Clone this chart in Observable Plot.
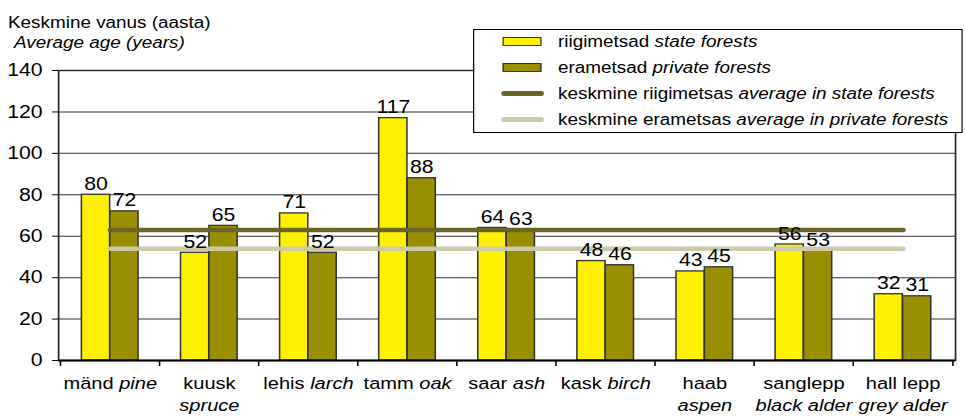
<!DOCTYPE html>
<html><head><meta charset="utf-8">
<script src="https://cdn.jsdelivr.net/npm/d3@7"></script>
<script src="https://cdn.jsdelivr.net/npm/@observablehq/plot@0.6"></script>
<style>
html,body{margin:0;padding:0;background:#fff;overflow:hidden;}
#stretch{position:absolute;left:0;top:0;width:818px;height:416px;transform-origin:0 0;transform:scaleX(1.17971);font-family:"Liberation Sans",Arial,sans-serif;color:#000;}
#chart{position:absolute;left:0;top:0;}
.title{position:absolute;font-size:16px;line-height:16px;white-space:nowrap;}
#legend{position:absolute;left:401px;top:29px;width:415px;height:104px;box-sizing:border-box;border:1.5px solid #000;background:#fff;}
.row{position:absolute;left:71px;height:16px;line-height:16px;font-size:16px;white-space:nowrap;}
.sw{position:absolute;left:24px;box-sizing:border-box;}
</style></head><body>
<div id="stretch"><div id="chart"></div><div id="titles"></div><div id="legend"></div></div>
<script>
// ---- data ----
const speciesEt = ["mänd", "kuusk", "lehis", "tamm", "saar", "kask", "haab", "sanglepp", "hall lepp"];
const speciesEn = ["pine", "spruce", "larch", "oak", "ash", "birch", "aspen", "black alder", "grey alder"];
const twoLineLabel = [false, true, false, false, false, false, true, true, true];
const stateAge = [80, 52, 71, 117, 64, 48, 43, 56, 32];
const privateAge = [72, 65, 52, 88, 63, 46, 45, 53, 31];
const avgStateAge = 63;
const avgPrivateAge = 54;
const yTicks = [0, 20, 40, 60, 80, 100, 120, 140];
const legendEt = ["riigimetsad", "erametsad", "keskmine riigimetsas", "keskmine erametsas"];
const legendEn = ["state forests", "private forests", "average in state forests", "average in private forests"];
const titleEt = "Keskmine vanus (aasta)";
const titleEn = "Average age (years)";

// ---- styles ----
const cState = "#fff000", cPrivate = "#998f00", cAvgState = "#6b6424", cAvgPrivate = "#cbc9a7";
const W = 818, H = 416, mL = 49.2, mR = 8.5, mT = 70, mB = 56;
const pIn = 0.43, pOut = 0.215;
const step = (W - mL - mR) / (speciesEt.length - pIn + 2 * pOut);
const half = step * (1 - pIn) / 2;

const stateRows = speciesEt.map((c, i) => ({cat: c, v: stateAge[i]}));
const privRows = speciesEt.map((c, i) => ({cat: c, v: privateAge[i]}));
const labelText = speciesEt.map((c, i) => twoLineLabel[i] ? c + "\n" + speciesEn[i] : c + " " + speciesEn[i]);

const plot = Plot.plot({
  width: W, height: H,
  marginLeft: mL, marginRight: mR, marginTop: mT, marginBottom: mB,
  style: {fontFamily: '"Liberation Sans", Arial, sans-serif', fontSize: "18px", background: "transparent", color: "#000", overflow: "visible"},
  x: {domain: speciesEt, paddingInner: pIn, paddingOuter: pOut, axis: null},
  y: {domain: [0, 140], ticks: 7, tickSize: 5, tickPadding: 8.6, label: null},
  marks: [
    Plot.ruleY(yTicks, {stroke: "#333", strokeWidth: 1}),
    Plot.barY(stateRows, {x: "cat", y: "v", fill: cState, stroke: "#333", strokeWidth: 1.3, insetRight: half}),
    Plot.barY(privRows, {x: "cat", y: "v", fill: cPrivate, stroke: "#333", strokeWidth: 1.3, insetLeft: half}),
    Plot.lineY(speciesEt, {x: d => d, y: () => avgStateAge, stroke: cAvgState, strokeWidth: 4.5, strokeLinecap: "round"}),
    Plot.lineY(speciesEt, {x: d => d, y: () => avgPrivateAge, stroke: cAvgPrivate, strokeWidth: 4.5, strokeLinecap: "round"}),
    Plot.frame({stroke: "#222", strokeWidth: 1.4}),
    Plot.ruleY([0], {stroke: "#000", strokeWidth: 2}),
    Plot.ruleX(speciesEt, {x: d => d, dx: -step / 2, insetTop: H - mT - mB, insetBottom: -6, stroke: "#000", strokeWidth: 1.3}),
    Plot.ruleX(speciesEt.slice(-1), {x: d => d, dx: step / 2, insetTop: H - mT - mB, insetBottom: -6, stroke: "#000", strokeWidth: 1.3}),
    Plot.text(stateRows, {x: "cat", y: "v", text: d => String(d.v), dx: -half / 2, dy: -5, lineAnchor: "bottom", fontSize: 18, fill: "#000"}),
    Plot.text(privRows, {x: "cat", y: "v", text: d => String(d.v), dx: half / 2, dy: -5, lineAnchor: "bottom", fontSize: 18, fill: "#000"}),
    Plot.text(speciesEt, {x: d => d, text: (d, i) => labelText[i], frameAnchor: "bottom", lineAnchor: "top", dy: 13, fontSize: 17, lineHeight: 1.28, fill: "#000"})
  ]
});
document.getElementById("chart").appendChild(plot);

// italic English part of category labels
d3.select(plot).selectAll("text").each(function() {
  const t = d3.select(this);
  const content = this.textContent;
  for (let i = 0; i < speciesEt.length; i++) {
    if (twoLineLabel[i] && content === speciesEt[i] + speciesEn[i]) {
      t.selectAll("tspan").filter((_, j) => j === 1).attr("font-style", "italic");
      break;
    }
    if (!twoLineLabel[i] && content === speciesEt[i] + " " + speciesEn[i]) {
      const tsp = t.selectAll("tspan");
      if (!tsp.empty()) {
        const tn = tsp.node();
        tn.textContent = speciesEt[i] + " ";
        d3.select(tn).append("tspan").attr("font-style", "italic").text(speciesEn[i]);
      } else {
        t.text(speciesEt[i] + " ");
        t.append("tspan").attr("font-style", "italic").text(speciesEn[i]);
      }
      break;
    }
  }
});

// titles
const titles = document.getElementById("titles");
const t1 = document.createElement("div"); t1.className = "title"; t1.style.left = "6.8px"; t1.style.top = "14.8px"; t1.textContent = titleEt;
const t2 = document.createElement("div"); t2.className = "title"; t2.style.left = "11.9px"; t2.style.top = "34.7px"; t2.style.fontStyle = "italic"; t2.textContent = titleEn;
titles.appendChild(t1); titles.appendChild(t2);

// legend
const legend = document.getElementById("legend");
const rowCenters = [11.5, 37.5, 63.5, 89.5];
const kinds = [["rect", cState], ["rect", cPrivate], ["line", cAvgState], ["line", cAvgPrivate]];
legendEt.forEach((et, i) => {
  const cy = rowCenters[i];
  const sw = document.createElement("div"); sw.className = "sw";
  if (kinds[i][0] === "rect") {
    sw.style.cssText += `top:${cy - 4.5}px;width:33px;height:9px;background:${kinds[i][1]};border:1.5px solid #333;`;
  } else {
    sw.style.cssText += `left:22.5px;top:${cy - 2.25}px;width:36px;height:4.5px;background:${kinds[i][1]};border-radius:2.25px;`;
  }
  legend.appendChild(sw);
  const r = document.createElement("div"); r.className = "row"; r.style.top = (cy - 8) + "px";
  r.textContent = et + " ";
  const it = document.createElement("i"); it.textContent = legendEn[i]; r.appendChild(it);
  legend.appendChild(r);
});
</script>
</body></html>
